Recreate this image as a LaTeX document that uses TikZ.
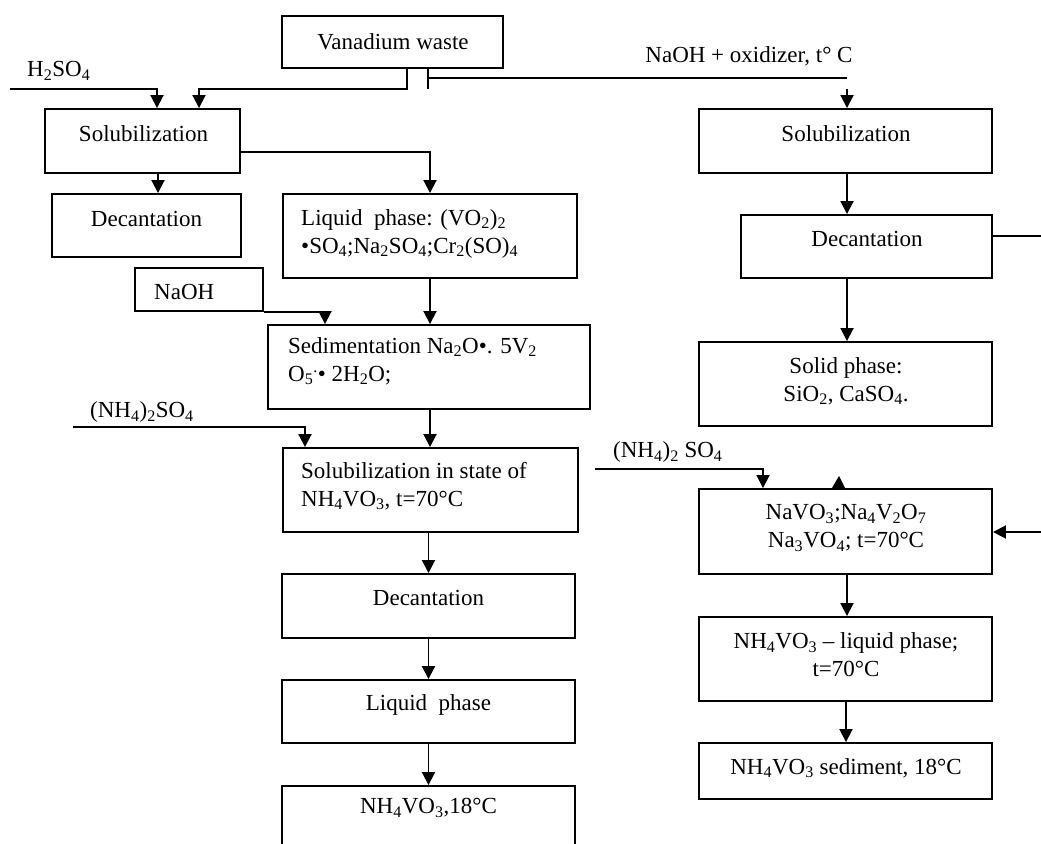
\documentclass[tikz,border=0pt]{standalone}
\usepackage{fontspec}
\setmainfont{Liberation Serif}
\usetikzlibrary{arrows.meta}
\newcommand{\chs}[1]{\textsubscript{#1}}
\tikzset{
  box/.style={draw, line width=1.9pt, rectangle, inner sep=0pt},
  txt/.style={inner sep=0pt, font=\fontsize{23}{28}\selectfont},
  conn/.style={line width=1.9pt},
  arr/.style={conn, -{Triangle[length=13pt,width=13pt]}},
}
\begin{document}
\begin{tikzpicture}[x=1pt,y=-1pt]
\path[use as bounding box, fill=white] (0,0) rectangle (1041,843);

% ---- boxes ----
\node[box, minimum width=221pt, minimum height=52pt] (vw) at (392.5,42) {};
\node[box, minimum width=195pt, minimum height=64pt] (sol1) at (142.5,141) {};
\node[box, minimum width=189pt, minimum height=63pt] (dec1) at (146.5,225.5) {};
\node[box, minimum width=294pt, minimum height=84pt] (liq1) at (430,236) {};
\node[box, minimum width=128pt, minimum height=43pt] (naoh) at (199,289.5) {};
\node[box, minimum width=322pt, minimum height=84pt] (sed) at (429,367) {};
\node[box, minimum width=295pt, minimum height=84pt] (state) at (430.5,490) {};
\node[box, minimum width=293pt, minimum height=64pt] (dec2) at (428.5,606) {};
\node[box, minimum width=293pt, minimum height=63pt] (liq2) at (428.5,711.5) {};
\node[box, minimum width=293pt, minimum height=84pt] (nh4) at (428.5,828) {};
\node[box, minimum width=293pt, minimum height=64pt] (rsol) at (845.5,141) {};
\node[box, minimum width=251pt, minimum height=63pt] (rdec) at (866.5,246.5) {};
\node[box, minimum width=293pt, minimum height=84pt] (solid) at (845.5,384) {};
\node[box, minimum width=293pt, minimum height=85pt] (navo) at (845.5,531.5) {};
\node[box, minimum width=293pt, minimum height=84pt] (nh4liq) at (845.5,659) {};
\node[box, minimum width=293pt, minimum height=56pt] (sedi) at (845.5,771) {};

% ---- box texts ----
\node[txt] (t-vw) at (393,42) {Vanadium waste};
\node[txt] (t-sol1) at (143.5,134) {Solubilization};
\node[txt] (t-dec1) at (146.5,219) {Decantation};
\node[txt, anchor=west, align=left] (t-liq1) at (301,233.5) {Liquid\ \ phase: (VO\chs{2})\chs{2}\\•SO\chs{4};Na\chs{2}SO\chs{4};Cr\chs{2}(SO)\chs{4}};
\node[txt, anchor=west] (t-naoh) at (154,292) {NaOH};
\node[txt, anchor=west, align=left] (t-sed) at (288,361) {Sedimentation Na\chs{2}O•. 5V\chs{2}\\O\chs{5}\textsuperscript{.}• 2H\chs{2}O;};
\node[txt, anchor=west, align=left] (t-state) at (301,486) {Solubilization in state of\\NH\chs{4}VO\chs{3}, t=70°C};
\node[txt] (t-dec2) at (428.5,598) {Decantation};
\node[txt] (t-liq2) at (428.5,705) {Liquid\ \ phase};
\node[txt] (t-nh4) at (428.5,808) {NH\chs{4}VO\chs{3},18°C};
\node[txt] (t-rsol) at (846,134) {Solubilization};
\node[txt] (t-rdec) at (867,239) {Decantation};
\node[txt, align=center] (t-solid) at (846,381) {Solid phase:\\SiO\chs{2}, CaSO\chs{4}.};
\node[txt, align=center] (t-navo) at (846,528) {NaVO\chs{3};Na\chs{4}V\chs{2}O\chs{7}\\Na\chs{3}VO\chs{4}; t=70°C};
\node[txt, align=center] (t-nh4liq) at (846,654.5) {NH\chs{4}VO\chs{3} – liquid phase;\\t=70°C};
\node[txt] (t-sedi) at (846,768) {NH\chs{4}VO\chs{3} sediment, 18°C};

% ---- free labels ----
\node[txt, anchor=west] (l-h2so4) at (27,71) {H\chs{2}SO\chs{4}};
\node[txt] (l-naox) at (749,56) {NaOH + oxidizer, t° C};
\node[txt, anchor=west] (l-nh4a) at (90,412) {(NH\chs{4})\chs{2}SO\chs{4}};
\node[txt, anchor=west] (l-nh4b) at (613,452) {(NH\chs{4})\chs{2} SO\chs{4}};

% ---- free ends / junctions ----
\coordinate (h2in) at (10,89);
\coordinate (vwl) at (407,89);
\coordinate (tickb) at (428,89);
\coordinate (j1) at (428,78);
\coordinate (j2) at (847,78);
\coordinate (j3) at (847,89);
\coordinate (nh4in) at (73,427);
\coordinate (nh4rin) at (595,469);
\coordinate (rdecout) at (1041,236);
\coordinate (navoin) at (1041,532);

% ---- connectors ----
\draw[arr] (h2in) -| (157,0 |- sol1.north);
\draw[arr] (407,0 |- vw.south) -- (vwl) -| (199,0 |- sol1.north);
\draw[conn] (428,0 |- vw.south) -- (tickb);
\draw[conn] (j1) -- (j2);
\draw[arr] (j3) -- (847,0 |- rsol.north);

\draw[arr] (158,0 |- sol1.south) -- (158,0 |- dec1.north);
\draw[arr] (sol1.east |- 0,152) -| (liq1.north);
\draw[arr] (liq1.south) -- (liq1.south |- sed.north);
\draw[arr] (naoh.south east) -| (325,0 |- sed.north);
\draw[arr] (nh4in) -| (305,0 |- state.north);
\draw[arr] (430,0 |- sed.south) -- (430,0 |- state.north);
\draw[arr] (dec2.north |- state.south) -- (dec2.north);
\draw[arr] (dec2.south) -- (liq2.north);
\draw[arr] (liq2.south) -- (nh4.north);

\draw[arr] (847,0 |- rsol.south) -- (847,0 |- rdec.north);
\draw[arr] (847,0 |- rdec.south) -- (847,0 |- solid.north);
\draw[conn] (rdec.east |- rdecout) -- (rdecout);
\draw[arr] (nh4rin) -| (763,0 |- navo.north);
\fill (839,476) -- (832,488) -- (846,490) -- cycle;
\draw[arr] (navoin) -- (navo.east |- navoin);
\draw[arr] (847,0 |- navo.south) -- (847,0 |- nh4liq.north);
\draw[arr] (846,0 |- nh4liq.south) -- (846,0 |- sedi.north);
\end{tikzpicture}
\end{document}
